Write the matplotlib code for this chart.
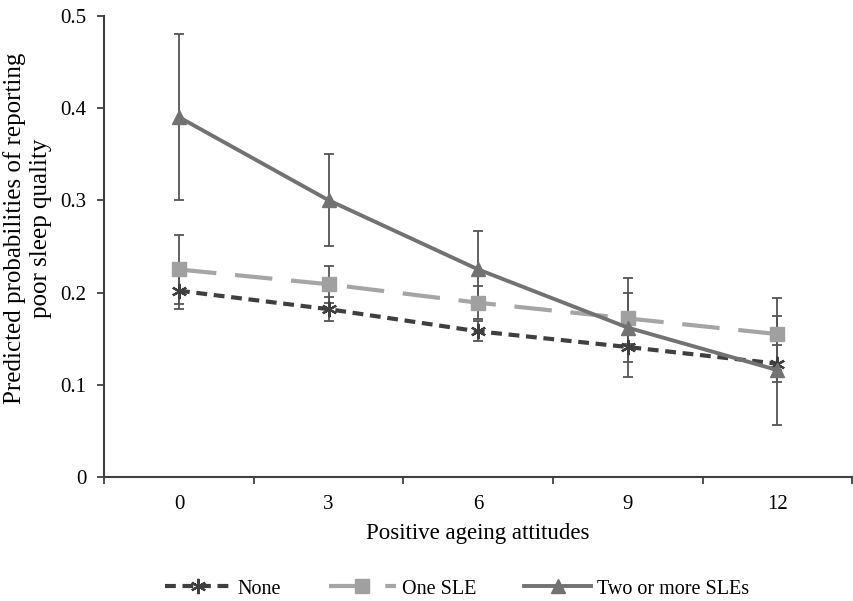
import numpy as np
import matplotlib
matplotlib.use("Agg")
import matplotlib.pyplot as plt

plt.rcParams['font.family'] = ['Liberation Serif', 'DejaVu Serif']

categories = ["0", "3", "6", "9", "12"]
none_vals = [0.202, 0.182, 0.158, 0.141, 0.123]
none_err = [0.020, 0.013, 0.011, 0.016, 0.020]
one_vals = [0.225, 0.209, 0.189, 0.172, 0.155]
one_err = [0.037, 0.020, 0.018, 0.028, 0.039]
two_vals = [0.390, 0.300, 0.225, 0.162, 0.116]
two_err = [0.090, 0.050, 0.042, 0.054, 0.059]

x = np.arange(len(categories))

fig = plt.figure(figsize=(8.54, 6.01), dpi=100)
ax = fig.add_axes([0.122, 0.206, 0.876, 0.768])

err_col = '#555555'
# error bars first so lines sit on top
for vals, errs in [(none_vals, none_err), (one_vals, one_err), (two_vals, two_err)]:
    ax.errorbar(x, vals, yerr=errs, fmt='none', ecolor=err_col, elinewidth=1.3,
                capsize=3.5, capthick=1.3, zorder=2)

ax.plot(x, none_vals, color='#3f3f3f', lw=3, ls=(0, (2.6, 1.6)),
        marker=(6, 2, 0), ms=11, mew=1.6, mec='#3f3f3f', label='None', zorder=3)
ax.plot(x, one_vals, color='#a5a5a5', lw=3, ls=(0, (9, 4.5)),
        marker='s', ms=9.5, mfc='#a0a0a0', mec='#a0a0a0', label='One SLE', zorder=3)
ax.plot(x, two_vals, color='#727272', lw=2.8, ls='-',
        marker='^', ms=10, mfc='#727272', mec='#727272', label='Two or more SLEs', zorder=4)

ax.set_xlim(-0.5, 4.5)
ax.set_ylim(0, 0.5)
ax.set_xticks(x)
ax.set_xticklabels(categories)
ax.set_xticks(np.arange(-0.5, 5.0, 1.0), minor=True)
ax.tick_params(axis='x', which='major', length=0, pad=13, labelsize=15)
ax.tick_params(axis='x', which='minor', length=5, width=1.3, direction='out', color='#404040')
ax.set_yticks([0, 0.1, 0.2, 0.3, 0.4, 0.5])
ax.set_yticklabels(['0', '0.1', '0.2', '0.3', '0.4', '0.5'])
ax.tick_params(axis='y', length=5, width=1.3, direction='out', color='#404040', labelsize=15, pad=8)

for s in ['top', 'right']:
    ax.spines[s].set_visible(False)
for s in ['left', 'bottom']:
    ax.spines[s].set_linewidth(1.5)
    ax.spines[s].set_color('#404040')

ax.set_xlabel("Positive ageing attitudes", fontsize=16.5, labelpad=6)
ax.set_ylabel("Predicted probabilities of reporting\npoor sleep quality", fontsize=18)
ax.yaxis.set_label_coords(-0.07, 0.54)

fig.legend(loc='center', bbox_to_anchor=(0.535, 0.02), ncol=3, frameon=False,
           fontsize=14.5, handlelength=3.3, columnspacing=2.4, handletextpad=0.3)

fig.savefig("out.png", dpi=100)
